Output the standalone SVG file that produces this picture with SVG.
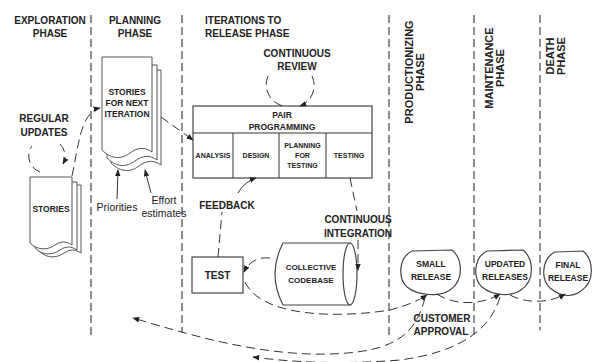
<svg xmlns="http://www.w3.org/2000/svg" width="597" height="362" viewBox="0 0 597 362">
<defs>
<style>
text{font-family:"Liberation Sans",Arial,sans-serif;fill:#222;text-anchor:middle}
.h{font-size:10px;font-weight:bold}
.s{font-size:8.5px;font-weight:bold}
.c{font-size:8px;font-weight:bold}
.xs{font-size:7px;font-weight:bold}
.n{font-size:10.5px}
.r{font-size:11px;font-weight:bold}
.l{text-anchor:start}
.phase{stroke:#333;stroke-width:1.1;stroke-dasharray:8 4;fill:none}
.box{fill:#fff;stroke:#444;stroke-width:1.2}
.page{fill:#fff;stroke:#555;stroke-width:1}
.dash{fill:none;stroke:#333;stroke-width:1;stroke-dasharray:9 5}
.solid{fill:none;stroke:#333;stroke-width:1}
</style>
<marker id="ah" viewBox="0 0 10 10" refX="9" refY="5" markerWidth="7" markerHeight="7" orient="auto" markerUnits="userSpaceOnUse">
<path d="M0,1 L10,5 L0,9 Z" fill="#222"/>
</marker>
</defs>
<rect width="597" height="362" fill="#fff"/>

<g id="phase-lines">
<line class="phase" x1="91" y1="15" x2="91" y2="335"/>
<line class="phase" x1="182" y1="15" x2="182" y2="333"/>
<line class="phase" x1="389" y1="15" x2="389" y2="335"/>
<line class="phase" x1="474" y1="15" x2="474" y2="338"/>
<line class="phase" x1="540" y1="15" x2="540" y2="330"/>
</g>

<g id="headings">
<text class="h" x="50" y="23.5">EXPLORATION</text>
<text class="h" x="50" y="37">PHASE</text>
<text class="h" x="135" y="23.5">PLANNING</text>
<text class="h" x="135" y="37">PHASE</text>
<text class="h l" x="205" y="23.5">ITERATIONS TO</text>
<text class="h l" x="205" y="37">RELEASE PHASE</text>
<text class="r" transform="translate(412.5,72) rotate(-90)">PRODUCTIONIZING</text>
<text class="r" transform="translate(424,72) rotate(-90)">PHASE</text>
<text class="r" transform="translate(493,68) rotate(-90)">MAINTENANCE</text>
<text class="r" transform="translate(504,68) rotate(-90)">PHASE</text>
<text class="r" transform="translate(554,56) rotate(-90)">DEATH</text>
<text class="r" transform="translate(565,56) rotate(-90)">PHASE</text>
</g>

<g id="stories">
<path class="page" d="M39,185 H81 V253 C75,249 70,249 64,253 C57,258 47,259 39,251 Z"/>
<path class="page" d="M35,182 H77 V250 C71,246 66,246 60,250 C53,255 43,256 35,248 Z"/>
<path class="page" d="M30,177 H72 V245 C66,241 61,241 55,245 C48,250 38,251 30,243 Z"/>
<text class="s" x="51" y="212">STORIES</text>
</g>

<g id="stories-next-iteration">
<path class="page" d="M111,70 H161 V165 C154,160 147,160 139,166 C131,172 121,173 111,163 Z"/>
<path class="page" d="M107,65 H157 V160 C150,155 143,155 135,161 C127,167 117,168 107,158 Z"/>
<path class="page" d="M102,57 H152 V152 C145,147 138,147 130,153 C122,159 112,160 102,150 Z"/>
<text class="s" x="127" y="95">STORIES</text>
<text class="s" x="127" y="106">FOR NEXT</text>
<text class="s" x="127" y="116.5">ITERATION</text>
</g>

<g id="labels">
<text class="h" x="44" y="121.5">REGULAR</text>
<text class="h" x="44" y="135.5">UPDATES</text>
<text class="n" x="117" y="211">Priorities</text>
<text class="n" x="164" y="204">Effort</text>
<text class="n" x="164" y="217">estimates</text>
<text class="h" x="297" y="57">CONTINUOUS</text>
<text class="h" x="297" y="70">REVIEW</text>
<text class="h" x="227" y="208.5">FEEDBACK</text>
<text class="h" x="358" y="222.5">CONTINUOUS</text>
<text class="h" x="358" y="236.5">INTEGRATION</text>
<text class="h" x="442" y="321.5">CUSTOMER</text>
<text class="h" x="441" y="334.5">APPROVAL</text>
</g>

<g id="pair-programming">
<rect class="box" x="193" y="106" width="179" height="72"/>
<line class="solid" x1="193" y1="133" x2="372" y2="133" stroke="#444" stroke-width="1.2"/>
<line class="solid" x1="233" y1="133" x2="233" y2="178" stroke-width="1.2"/>
<line class="solid" x1="279" y1="133" x2="279" y2="178" stroke-width="1.2"/>
<line class="solid" x1="326" y1="133" x2="326" y2="178" stroke-width="1.2"/>
<text class="s" x="282" y="118">PAIR</text>
<text class="s" x="282" y="129.5">PROGRAMMING</text>
<text class="xs" x="213" y="157.5">ANALYSIS</text>
<text class="xs" x="256" y="157.5">DESIGN</text>
<text class="xs" x="302.5" y="147.5">PLANNING</text>
<text class="xs" x="302.5" y="157.5">FOR</text>
<text class="xs" x="302.5" y="167.5">TESTING</text>
<text class="xs" x="349" y="157.5">TESTING</text>
</g>

<g id="test">
<rect class="box" x="192" y="257" width="51" height="36"/>
<text class="h" x="217.5" y="278.5">TEST</text>
</g>

<g id="collective-codebase">
<path class="box" d="M283,243 H350 V305 H283 Q267,274 283,243 Z"/>
<ellipse class="box" cx="350" cy="274" rx="7" ry="31"/>
<text class="c" x="311" y="270">COLLECTIVE</text>
<text class="c" x="311" y="283">CODEBASE</text>
</g>

<g id="small-release">
<path class="box" d="M412,251 L452,250 C462,258 465,280 450,290 C440,297 418,296 407,287 C398,279 398,258 412,251 Z"/>
<text class="s" x="431" y="267">SMALL</text>
<text class="s" x="431" y="280">RELEASE</text>
</g>

<g id="updated-releases">
<path class="box" d="M487,251 L523,250 C533,258 536,280 521,290 C511,297 493,296 482,287 C473,279 473,258 487,251 Z"/>
<text class="s" x="505" y="267">UPDATED</text>
<text class="s" x="505" y="280">RELEASES</text>
</g>

<g id="final-release">
<path class="box" d="M555,252 L583,251 C593,259 596,281 581,291 C571,298 561,297 550,288 C541,280 541,259 555,252 Z"/>
<text class="s" x="568" y="268">FINAL</text>
<text class="s" x="568" y="281">RELEASE</text>
</g>

<g id="connectors">
<path class="dash" d="M72,176 C78,150 80,112 100,108" marker-end="url(#ah)"/>
<path class="dash" d="M40,172 A17,17 0 0 1 32,146"/>
<path class="dash" d="M60,144 A17,17 0 0 1 63,164" marker-end="url(#ah)"/>
<path class="dash" d="M161,117 L193,140" marker-end="url(#ah)"/>
<path class="solid" d="M117,199 L118,170" marker-end="url(#ah)"/>
<path class="solid" d="M151,193 L145,170" marker-end="url(#ah)"/>
<path class="dash" d="M268,76 A22,22 0 0 0 283,106"/>
<path class="dash" d="M312,76 A22,22 0 0 1 300,106" marker-end="url(#ah)"/>
<path class="solid" d="M238,193 Q244,182 256,178" marker-end="url(#ah)"/>
<path class="dash" d="M218,257 L222,212"/>
<path class="dash" d="M350,178 L357,211"/>
<path class="dash" d="M358,240 L358,270" marker-end="url(#ah)"/>
<path class="dash" d="M270,258 Q252,256 244,272" marker-end="url(#ah)"/>
<path class="dash" d="M245,282 C262,318 340,318 390,310 C405,306 418,301 427,295" marker-end="url(#ah)"/>
<path class="dash" d="M437,294 C455,306 482,305 500,294" marker-end="url(#ah)"/>
<path class="dash" d="M510,295 C527,304 550,303 565,294" marker-end="url(#ah)"/>
<path class="dash" d="M425,298 C415,335 395,352 330,354 C260,356 190,335 133,318" marker-end="url(#ah)"/>
<path class="dash" d="M500,297 C490,330 460,352 400,360 C340,365 290,362 253,357" marker-end="url(#ah)"/>
</g>
</svg>
